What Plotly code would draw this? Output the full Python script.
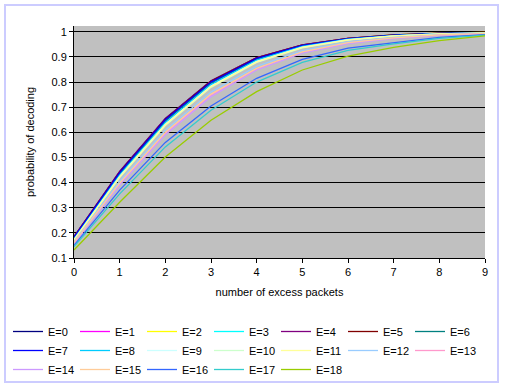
import plotly.graph_objects as go

x_packets = [0, 1, 2, 3, 4, 5, 6, 7, 8, 9]

E0 = [0.185, 0.445, 0.655, 0.805, 0.897, 0.948, 0.974, 0.988, 0.994, 0.997]
E1 = [0.183, 0.443, 0.653, 0.803, 0.896, 0.947, 0.974, 0.987, 0.994, 0.997]
E2 = [0.182, 0.441, 0.651, 0.802, 0.895, 0.947, 0.974, 0.988, 0.995, 0.998]
E3 = [0.180, 0.438, 0.648, 0.799, 0.893, 0.946, 0.973, 0.987, 0.994, 0.997]
E4 = [0.184, 0.444, 0.654, 0.804, 0.896, 0.948, 0.974, 0.987, 0.993, 0.997]
E5 = [0.183, 0.442, 0.652, 0.803, 0.896, 0.947, 0.974, 0.988, 0.995, 0.998]
E6 = [0.178, 0.435, 0.645, 0.796, 0.891, 0.945, 0.972, 0.986, 0.993, 0.997]
E7 = [0.182, 0.440, 0.650, 0.800, 0.894, 0.946, 0.973, 0.987, 0.994, 0.997]
E8 = [0.175, 0.430, 0.638, 0.790, 0.887, 0.942, 0.971, 0.985, 0.993, 0.996]
E9 = [0.172, 0.425, 0.632, 0.784, 0.882, 0.939, 0.969, 0.984, 0.992, 0.996]
E10 = [0.170, 0.420, 0.627, 0.779, 0.878, 0.936, 0.967, 0.983, 0.991, 0.995]
E11 = [0.172, 0.423, 0.630, 0.782, 0.880, 0.938, 0.968, 0.984, 0.992, 0.996]
E12 = [0.165, 0.405, 0.608, 0.760, 0.862, 0.925, 0.960, 0.978, 0.989, 0.994]
E13 = [0.160, 0.395, 0.595, 0.748, 0.852, 0.918, 0.955, 0.975, 0.987, 0.993]
E14 = [0.158, 0.390, 0.590, 0.742, 0.848, 0.915, 0.953, 0.973, 0.986, 0.993]
E15 = [0.162, 0.398, 0.600, 0.752, 0.855, 0.920, 0.957, 0.976, 0.988, 0.993]
E16 = [0.150, 0.370, 0.560, 0.705, 0.815, 0.890, 0.935, 0.958, 0.978, 0.989]
E17 = [0.145, 0.355, 0.542, 0.688, 0.800, 0.878, 0.926, 0.952, 0.974, 0.987]
E18 = [0.132, 0.322, 0.502, 0.648, 0.762, 0.848, 0.903, 0.938, 0.965, 0.984]

series_names = ["E=%d" % i for i in range(19)]
series_values = [E0, E1, E2, E3, E4, E5, E6, E7, E8, E9, E10, E11, E12,
                 E13, E14, E15, E16, E17, E18]
series_colors = ["#000080", "#FF00FF", "#FFFF00", "#00FFFF", "#800080",
                 "#800000", "#008080", "#0000FF", "#00CCFF", "#CCFFFF",
                 "#CCFFCC", "#FFFF99", "#99CCFF", "#FF99CC", "#CC99FF",
                 "#FFCC99", "#3366FF", "#33CCCC", "#99CC00"]

fig = go.Figure()
for name, vals, col in zip(series_names, series_values, series_colors):
    fig.add_trace(go.Scatter(x=x_packets, y=vals, mode="lines", name=name,
                             line=dict(color=col, width=1.3)))

W, H = 505, 388
L, R, T, B = 74, 485, 26, 258
pw, ph = R - L, B - T


def px_x(p):
    return (p - L) / pw


def px_y(p):
    return (B - p) / ph


font = dict(family="Liberation Sans, Arial, sans-serif", size=11, color="black")

fig.update_layout(
    width=W, height=H,
    margin=dict(l=L, r=W - R, t=T, b=H - B, pad=0, autoexpand=False),
    paper_bgcolor="white",
    plot_bgcolor="#C0C0C0",
    font=font,
    showlegend=True,
    legend=dict(orientation="h", x=px_x(8), y=px_y(317), xanchor="left",
                yanchor="top", entrywidth=22, entrywidthmode="pixels",
                font=font, bgcolor="rgba(0,0,0,0)", tracegroupgap=0,
                traceorder="normal"),
    xaxis=dict(range=[0, 9], tick0=0, dtick=1, showgrid=False,
               showline=True, linecolor="black", linewidth=1,
               ticks="outside", ticklen=4, tickcolor="black",
               zeroline=False, tickfont=font, automargin=False,
               title=dict(text="number of excess packets", font=font,
                          standoff=11)),
    yaxis=dict(range=[0.1, 1.023], tick0=0.1, dtick=0.1, showgrid=True,
               gridcolor="black", gridwidth=1,
               showline=True, linecolor="black", linewidth=1,
               ticks="outside", ticklen=4, tickcolor="black",
               zeroline=False, tickfont=font, automargin=False,
               title=dict(text="probability of decoding", font=font,
                          standoff=14)),
    shapes=[dict(type="rect", xref="paper", yref="paper",
                 x0=px_x(5), x1=px_x(498), y0=px_y(382), y1=px_y(5),
                 line=dict(color="#CCCCFF", width=2), layer="below")],
)

fig.write_html("out.html",
               config={"displayModeBar": False},
               post_script="document.body.style.margin='0';"
                           "document.body.style.padding='0';"
                           "document.body.style.overflow='hidden';")
